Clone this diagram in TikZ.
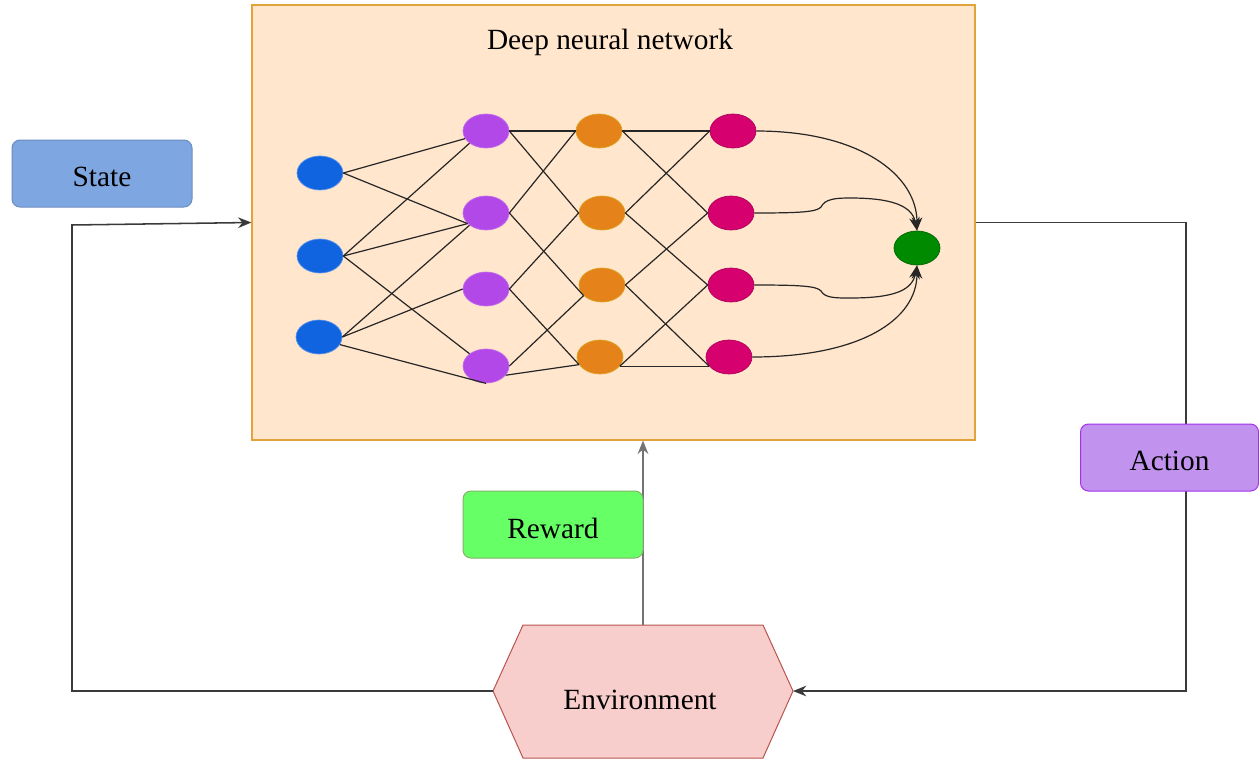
\documentclass[tikz,border=0pt]{standalone}
\usepackage{fontspec}
\setmainfont{Liberation Serif}
\usetikzlibrary{arrows.meta,shapes.geometric,calc}
\definecolor{dnnfill}{HTML}{FFE6CC}
\definecolor{dnnline}{HTML}{E0A43A}
\definecolor{statefill}{HTML}{7EA6E0}
\definecolor{stateline}{HTML}{6C8EBF}
\definecolor{rewardfill}{HTML}{66FF66}
\definecolor{rewardline}{HTML}{82B366}
\definecolor{actionfill}{HTML}{C293EE}
\definecolor{actionline}{HTML}{A630EC}
\definecolor{envfill}{HTML}{F8CECC}
\definecolor{envline}{HTML}{B85450}
\definecolor{nblue}{HTML}{1164E0}
\definecolor{npurple}{HTML}{B348E8}
\definecolor{norange}{HTML}{E5821A}
\definecolor{norangeline}{HTML}{D9A520}
\definecolor{nmag}{HTML}{D6006E}
\definecolor{ngreen}{HTML}{008A00}
\definecolor{flowgray}{HTML}{3A3A3A}
\newcommand{\lowtext}[1]{\raisebox{-2.6pt}[\height][\depth]{#1}}
\tikzset{
  lbl/.style={font=\fontsize{22pt}{26pt}\selectfont, text=black},
  boxstyle/.style={rounded corners=6pt, line width=0.75pt, lbl,
    minimum width=135pt, minimum height=50.25pt, inner sep=0pt},
  neuron/.style={ellipse, minimum width=34.5pt, minimum height=25.5pt, inner sep=0pt, line width=0.5pt},
  wire/.style={draw=black!85, line width=0.9pt},
  flow/.style={draw=flowgray, line width=1.15pt, -{Stealth[length=10pt,width=8pt]}},
  curv/.style={draw=black!85, line width=0.9pt, -{Stealth[length=10pt,width=8pt]}},
}
\begin{document}
\begin{tikzpicture}[x=0.75pt,y=-0.75pt]
\useasboundingbox (0,0) rectangle (1259,760);

% Deep neural network container
\node[draw=dnnline, fill=dnnfill, line width=0.9pt, minimum width=542.25pt, minimum height=326.25pt, inner sep=0pt] (dnn) at (613.5,222.5) {};
\node[lbl] (title) at (610,42) {Deep neural network};

% Neurons
\node[neuron, fill=nblue, draw=nblue!70!white] (b1) at (320,173) {};
\node[neuron, fill=nblue, draw=nblue!70!white] (b2) at (320,256) {};
\node[neuron, fill=nblue, draw=nblue!70!white] (b3) at (319,337) {};

\node[neuron, fill=npurple, draw=npurple!80!white] (p1) at (486,131) {};
\node[neuron, fill=npurple, draw=npurple!80!white] (p2) at (486,213) {};
\node[neuron, fill=npurple, draw=npurple!80!white] (p3) at (486,289) {};
\node[neuron, fill=npurple, draw=npurple!80!white] (p4) at (486,366) {};

\node[neuron, fill=norange, draw=norangeline] (o1) at (599,131) {};
\node[neuron, fill=norange, draw=norangeline] (o2) at (602,213) {};
\node[neuron, fill=norange, draw=norangeline] (o3) at (602,285) {};
\node[neuron, fill=norange, draw=norangeline] (o4) at (600,357) {};

\node[neuron, fill=nmag, draw=nmag!80!black] (m1) at (733,131) {};
\node[neuron, fill=nmag, draw=nmag!80!black] (m2) at (731,213) {};
\node[neuron, fill=nmag, draw=nmag!80!black] (m3) at (731,285) {};
\node[neuron, fill=nmag, draw=nmag!80!black] (m4) at (729,357) {};

\node[neuron, fill=ngreen, draw=ngreen!70!black] (g) at (917,248) {};

% input -> hidden 1
\draw[wire] (b1.east) -- (p1.-160);
\draw[wire] (b1.east) -- (p2.-150);
\draw[wire] (b2.east) -- (p1.south west);
\draw[wire] (b2.east) -- (p2.-150);
\draw[wire] (b2.east) -- (p4.north west);
\draw[wire] (b3.east) -- (p2.south west);
\draw[wire] (b3.east) -- (p3.west);
\draw[wire] (b3.-20) -- (p4.south);

% hidden 1 -> hidden 2
\draw[wire] (p1.east) -- (o1.west);
\draw[wire] (p1.east) -- (o2.west);
\draw[wire] (p2.east) -- (o1.west);
\draw[wire] (p2.east) -- (o3.-150);
\draw[wire] (p3.east) -- (o2.west);
\draw[wire] (p3.east) -- (o4.-160);
\draw[wire] (p4.east) -- (o3.-150);
\draw[wire] (p4.-25) -- (o4.-160);

% hidden 2 -> hidden 3
\draw[wire] (o1.east) -- (m1.west);
\draw[wire] (o1.east) -- (m2.west);
\draw[wire] (o2.east) -- (m1.west);
\draw[wire] (o2.east) -- (m3.west);
\draw[wire] (o3.east) -- (m2.west);
\draw[wire] (o3.east) -- (m4.-155);
\draw[wire] (o4.-25) -- (m3.west);
\draw[wire] (o4.-25) -- (m4.-155);

% hidden 3 -> output
\draw[curv] (m1.east) .. controls (860,131) and (917,175) .. (g.north);
\draw[curv] (m2.east) .. controls (800,213) and (817,212) .. (821,207)
  .. controls (825,199) and (835,198) .. (850,198)
  .. controls (890,198) and (912,205) .. (g.north);
\draw[curv] (m3.east) .. controls (800,285) and (817,286) .. (821,291)
  .. controls (825,298) and (835,298) .. (850,298)
  .. controls (890,298) and (912,292) .. (g.south);
\draw[curv] (m4.east) .. controls (860,357) and (917,320) .. (g.south);

% Environment hexagon
\coordinate (envL) at (493,691);
\coordinate (envR) at (793,691);
\coordinate (envT) at (643,625);
\draw[fill=envfill, draw=envline, line width=0.75pt]
  (envL) -- (523,625) -- (763,625) -- (envR) -- (763,758) -- (523,758) -- cycle;
\node[lbl] (env) at (640,700) {Environment};

% Loop connectors
\draw[flow] (envL) -- (72,691) -- (72,225) -- (dnn.west);
\draw[flow] (dnn.east) -- (1186,222.5) -- (1186,691) -- (envR);
\draw[flow, draw=black!55] (envT) -- (envT |- dnn.south);

% Label boxes
\node[boxstyle, fill=statefill, draw=stateline] (state) at (102,173.5) {\lowtext{State}};
\node[boxstyle, fill=rewardfill, draw=rewardline] (reward) at (553,524.5) {\lowtext{Reward}};
\node[boxstyle, fill=actionfill, draw=actionline, minimum width=133.5pt] (action) at (1169.5,457.5) {\lowtext{Action}};
\end{tikzpicture}
\end{document}
